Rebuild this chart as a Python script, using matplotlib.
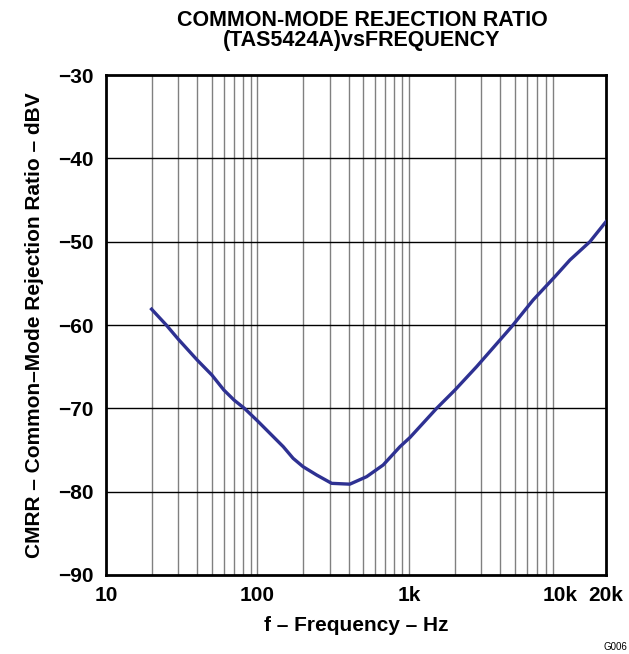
import matplotlib.pyplot as plt
import numpy as np

plt.rcParams['font.family'] = ['Liberation Sans', 'DejaVu Sans']
plt.rcParams['font.weight'] = 'bold'

# CMRR curve
freq_hz = [20, 25, 30, 40, 50, 60, 70, 82, 100, 148, 172, 200, 246, 309, 407,
           526, 676, 873, 1016, 1524, 2014, 2799, 4766, 6607, 9200, 11560,
           15670, 20000]
cmrr_db = [-58.1, -60.0, -61.7, -64.2, -66.0, -67.8, -69.0, -70.0, -71.5,
           -74.6, -76.0, -77.0, -78.0, -79.0, -79.1, -78.2, -76.8, -74.6,
           -73.5, -70.0, -67.8, -65.0, -60.2, -57.0, -54.2, -52.2, -50.0,
           -47.6]

x_ticks = [10, 100, 1000, 10000, 20000]
x_ticklabels = ['10', '100', '1k', '10k', '20k']
y_ticks = [-90, -80, -70, -60, -50, -40, -30]
y_ticklabels = ['\u221290', '\u221280', '\u221270', '\u221260', '\u221250', '\u221240', '\u221230']

fig = plt.figure(figsize=(6.29, 6.54), dpi=100)
ax = fig.add_axes([0.1685, 0.1208, 0.7949, 0.7645])

ax.set_xscale('log')
ax.set_xlim(10, 20000)
ax.set_ylim(-90, -30)

# vertical grid at every 1-2-...-9 position
for dec in [10, 100, 1000]:
    for m in range(1, 10):
        v = dec * m
        if 10 < v < 20000:
            ax.axvline(v, color='#808080', lw=1.0, zorder=1)
for y in y_ticks[1:-1]:
    ax.axhline(y, color='black', lw=1.0, zorder=1)

ax.plot(freq_hz, cmrr_db, color='#2E3192', lw=2.4, zorder=3)

ax.set_xticks(x_ticks)
ax.set_xticklabels(x_ticklabels)
ax.xaxis.set_minor_locator(plt.NullLocator())
ax.set_yticks(y_ticks)
ax.set_yticklabels(y_ticklabels)
ax.tick_params(axis='both', length=0, labelsize=15)
ax.tick_params(axis='x', pad=8)
ax.tick_params(axis='y', pad=9)

for s in ax.spines.values():
    s.set_linewidth(2.0)

ax.set_xlabel('f \u2013 Frequency \u2013 Hz', fontsize=15, fontweight='bold', labelpad=8)
ax.set_ylabel('CMRR \u2013 Common\u2013Mode Rejection Ratio \u2013 dBV', fontsize=15,
              fontweight='bold', labelpad=10)
fig.text(0.5755, 0.985, 'COMMON-MODE REJECTION RATIO\n(TAS5424A)vsFREQUENCY',
         ha='center', va='top', fontsize=15.5, fontweight='bold', linespacing=0.95)
fig.text(0.998, 0.006, 'G006', fontsize=7, fontweight='normal', ha='right')

fig.savefig('out.png', dpi=100)
